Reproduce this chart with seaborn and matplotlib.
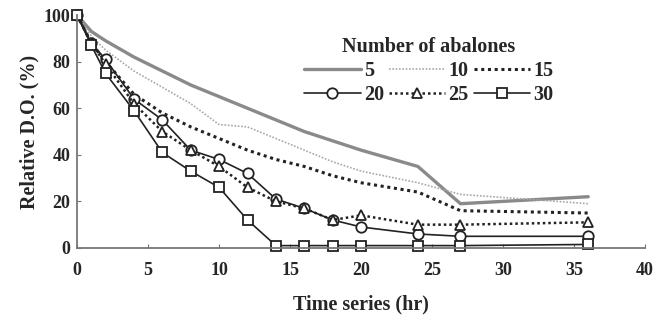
import matplotlib
matplotlib.use("Agg")
import matplotlib.pyplot as plt
import numpy as np
import pandas as pd
import seaborn as sns

sns.set_style("ticks")
plt.rcParams['font.family'] = ['Liberation Serif', 'DejaVu Serif']
plt.rcParams['font.weight'] = 'bold'

# sampling times (hr)
hours = [0, 1, 2, 4, 6, 8, 10, 12, 14, 16, 18, 20, 24, 27, 36]

# relative D.O. (%) for each number of abalones
do_5 = [100, 93, 89, 82, 76, 70, 65, 60, 55, 50, 46, 42, 35, 19, 22]
do_10 = [100, 91, 85, 76, 69, 62, 53, 52, 47, 42, 37, 33, 28, 23, 19]
do_15 = [100, 88, 80, 66, 58, 52, 47, 42, 38, 35, 31, 28, 24, 16, 15]
do_20 = [100, 88, 81, 64, 55, 42, 38, 32, 21, 17, 12, 9, 6, 5, 5]
do_25 = [100, 88, 79, 62, 50, 42, 35, 26, 20, 17, 12, 14, 10, 10, 11]
do_30 = [100, 87, 75, 59, 41, 33, 26, 12, 1, 1, 1, 1, 1, 1, 1.5]

series_names = ['5', '10', '15', '20', '25', '30']
series_vals = [do_5, do_10, do_15, do_20, do_25, do_30]

dark = '#222222'
mk = dict(markersize=7.5, markerfacecolor='white', markeredgecolor=dark, markeredgewidth=1.3)
styles = {
    '5': dict(color='#8a8a8a', linestyle='-', linewidth=2.4),
    '10': dict(color='#a8a8a8', linestyle=(0, (1, 1)), linewidth=1.2),
    '15': dict(color=dark, linestyle=(0, (1, 1.2)), linewidth=2.2),
    '20': dict(color=dark, linestyle='-', linewidth=1.2, marker='o', **mk),
    '25': dict(color=dark, linestyle=(0, (1, 1.2)), linewidth=1.8, marker='^', **mk),
    '30': dict(color=dark, linestyle='-', linewidth=1.2, marker='s', **mk),
}

fig = plt.figure(figsize=(6.65, 3.22), dpi=100)
ax = fig.add_axes([0.116, 0.230, 0.854, 0.723])

for name, vals in zip(series_names, series_vals):
    df = pd.DataFrame({'hr': hours, 'do': vals})
    sns.lineplot(data=df, x='hr', y='do', ax=ax, label=name, clip_on=False, **styles[name])

ax.set_xlim(0, 40)
ax.set_ylim(0, 100)
ax.set_xticks(range(0, 41, 5))
ax.set_yticks(range(0, 101, 20))
ax.tick_params(direction='in', length=3, color='#777777', labelsize=13)
ax.tick_params(axis='x', pad=10)
ax.tick_params(axis='y', pad=5)
for lab in ax.get_xticklabels() + ax.get_yticklabels():
    lab.set_fontweight('bold')
for side in ['top', 'right']:
    ax.spines[side].set_visible(False)
for side in ['left', 'bottom']:
    ax.spines[side].set_color('#777777')
    ax.spines[side].set_linewidth(1.3)

ax.set_xlabel('Time series (hr)', fontsize=14.5, fontweight='bold', labelpad=11)
ax.set_ylabel('Relative D.O. (%)', fontsize=14.5, fontweight='bold', labelpad=3)

# legend: two rows of three, so handles go in column order
handles, labels = ax.get_legend_handles_labels()
order = [0, 3, 1, 4, 2, 5]
leg = ax.legend([handles[i] for i in order], [labels[i] for i in order],
                ncol=3, frameon=False, title='Number of abalones',
                loc='upper left', bbox_to_anchor=(0.40, 0.905),
                borderpad=0, borderaxespad=0,
                fontsize=14.5, title_fontsize=14.5, handlelength=2.8,
                columnspacing=0.25, handletextpad=0.15, labelspacing=0.2)
leg.get_title().set_fontweight('bold')
for t in leg.get_texts():
    t.set_fontweight('bold')

fig.savefig('out.png', dpi=100)
